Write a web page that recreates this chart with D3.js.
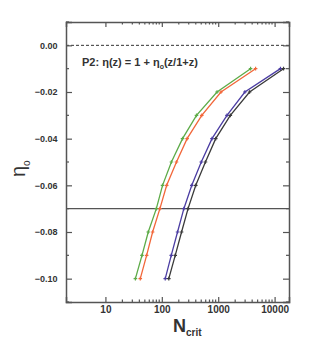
<!DOCTYPE html>
<html>
<head>
<meta charset="utf-8">
<script src="https://cdn.jsdelivr.net/npm/d3@7"></script>
<style>
  body { margin: 0; background: #fff; }
  text { font-family: "Liberation Sans", Arial, sans-serif; }
</style>
</head>
<body>
<svg id="chart" width="319" height="346"></svg>
<script>
// eta0 values (same for every curve)
const eta0 = [-0.01, -0.02, -0.03, -0.04, -0.05, -0.06, -0.07, -0.08, -0.09, -0.10];

// N_crit, one array per curve
const greenN  = [3750, 953, 412, 233, 148, 103, 80, 57.5, 44.5, 34];
const orangeN = [4600, 1120, 511, 281, 182, 122, 92.5, 68.7, 53.8, 41.5];
const blueN   = [12700, 2970, 1430, 776, 501, 340, 246, 190, 147, 115];
const blackN  = [14400, 3600, 1640, 903, 594, 400, 292, 224, 173, 133];

const seriesColors = ["#5dab48", "#f2673a", "#4b3da3", "#3a3a3a"];
const series = [greenN, orangeN, blueN, blackN];

const xMajor = [10, 100, 1000, 10000];
const yTicks = [0.00, -0.02, -0.04, -0.06, -0.08, -0.10];

const margin = { left: 66, right: 30, top: 22, bottom: 44 };
const width = 319, height = 346;

const svg = d3.select("#chart");

const x = d3.scaleLog().domain([2, 18000]).range([margin.left, width - margin.right]);
const y = d3.scaleLinear().domain([-0.11, 0.01]).range([height - margin.bottom, margin.top]);

const frameColor = "#555";

// minor ticks on log axis
const xMinor = [];
[10, 100, 1000].forEach(d => {
    for (let k = 2; k <= 9; k++) xMinor.push(d * k);
});
const yMinor = d3.range(-0.11, 0.011, 0.01).map(v => +v.toFixed(2)).filter(v => !yTicks.includes(v));

// dashed zero line and solid -0.07 line
svg.append("line")
    .attr("x1", x.range()[0]).attr("x2", x.range()[1])
    .attr("y1", y(0)).attr("y2", y(0))
    .attr("stroke", "#333").attr("stroke-width", 1)
    .attr("stroke-dasharray", "3,2");

svg.append("line")
    .attr("x1", x.range()[0]).attr("x2", x.range()[1])
    .attr("y1", y(-0.07)).attr("y2", y(-0.07))
    .attr("stroke", "#555").attr("stroke-width", 1.2);

// curves
const line = d3.line()
    .x(d => x(d[0]))
    .y(d => y(d[1]));

series.forEach((vals, i) => {
    const pts = vals.map((v, j) => [v, eta0[j]]);
    svg.append("path")
        .datum(pts)
        .attr("d", line)
        .attr("fill", "none")
        .attr("stroke", seriesColors[i])
        .attr("stroke-width", 1.3);

    const g = svg.append("g");
    g.selectAll("path")
        .data(pts)
        .enter().append("path")
        .attr("d", d => `M${x(d[0]) - 1.8},${y(d[1])}h3.6M${x(d[0])},${y(d[1]) - 1.8}v3.6`)
        .attr("stroke", seriesColors[i])
        .attr("stroke-width", 1.2);
});

// axes: bottom/top/left/right with inward ticks
const axBottom = d3.axisBottom(x).tickValues(xMajor).tickSize(-5).tickFormat(d3.format("d"));
const axTop = d3.axisTop(x).tickValues(xMajor).tickSize(-5).tickFormat("");
const axLeft = d3.axisLeft(y).tickValues(yTicks).tickSize(-6).tickFormat(d3.format(".2f"));
const axRight = d3.axisRight(y).tickValues(yTicks).tickSize(-6).tickFormat("");

const gb = svg.append("g").attr("transform", `translate(0,${y.range()[0]})`).call(axBottom);
const gt = svg.append("g").attr("transform", `translate(0,${y.range()[1]})`).call(axTop);
const gl = svg.append("g").attr("transform", `translate(${x.range()[0]},0)`).call(axLeft);
const gr = svg.append("g").attr("transform", `translate(${x.range()[1]},0)`).call(axRight);

// minor ticks
gb.selectAll(".minor").data(xMinor).enter().append("line")
    .attr("x1", d => x(d)).attr("x2", d => x(d)).attr("y1", 0).attr("y2", -2.5);
gt.selectAll(".minor").data(xMinor).enter().append("line")
    .attr("x1", d => x(d)).attr("x2", d => x(d)).attr("y1", 0).attr("y2", 2.5);
gl.selectAll(".minor").data(yMinor).enter().append("line")
    .attr("x1", 0).attr("x2", 3).attr("y1", d => y(d)).attr("y2", d => y(d));
gr.selectAll(".minor").data(yMinor).enter().append("line")
    .attr("x1", 0).attr("x2", -3).attr("y1", d => y(d)).attr("y2", d => y(d));

[gb, gt, gl, gr].forEach(g => {
    g.select(".domain").attr("stroke", frameColor).attr("stroke-width", 1.5);
    g.selectAll("line").attr("stroke", frameColor).attr("stroke-width", 1.2);
    g.selectAll("text")
        .attr("fill", "#333")
        .style("font-size", "9px")
        .style("font-weight", "bold");
});
gb.selectAll(".tick text").attr("dy", "0.8em").style("font-size", "10px");
gl.selectAll(".tick text").attr("dx", "-0.6em");

// annotation
const note = svg.append("text")
    .attr("x", 82).attr("y", 66)
    .attr("fill", "#333")
    .style("font-size", "11px")
    .style("font-weight", "bold");
note.append("tspan").text("P2: \u03b7(z) = 1 + \u03b7");
note.append("tspan").attr("dy", 3).style("font-size", "7px").text("o");
note.append("tspan").attr("dy", -3).text("(z/1+z)");

// axis titles
const xt = svg.append("text")
    .attr("x", 173).attr("y", 332)
    .attr("fill", "#333")
    .style("font-weight", "bold");
xt.append("tspan").style("font-size", "18px").text("N");
xt.append("tspan").attr("dy", 4).style("font-size", "10px").text("crit");

const yt = svg.append("text")
    .attr("transform", "translate(25,177) rotate(-90)")
    .attr("fill", "#333");
yt.append("tspan").style("font-size", "20px").text("\u03b7");
yt.append("tspan").attr("dy", 5).style("font-size", "10px").text("o");
</script>
</body>
</html>
